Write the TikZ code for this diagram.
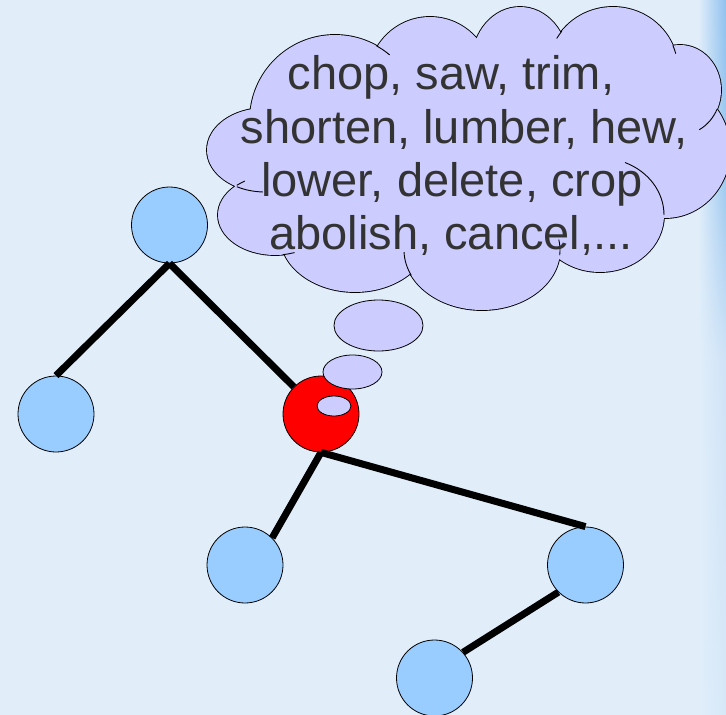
\documentclass[tikz,border=0pt]{standalone}
\usepackage{fontspec}
\setmainfont{Liberation Sans}
\usetikzlibrary{shadings}
\definecolor{bgc}{HTML}{E1EEFA}
\definecolor{nodeblue}{HTML}{99CCFF}
\definecolor{cloudc}{HTML}{CCCCFF}
\definecolor{txt}{HTML}{333333}
\definecolor{glowa}{RGB}{143,193,238}
\definecolor{glowb}{RGB}{160,202,240}
\definecolor{glowc}{RGB}{207,227,247}
\definecolor{glowd}{RGB}{214,232,248}
\tikzset{
 treenode/.style={circle, draw=black, line width=0.8pt, fill=nodeblue, minimum size=76pt, inner sep=0pt},
 hotnode/.style={treenode, fill=red},
 branch/.style={line width=7pt, draw=black},
 bubble/.style={draw=black, line width=0.8pt, fill=cloudc},
 words/.style={font=\fontsize{47}{53}\selectfont, text=txt, inner sep=0pt, anchor=base},
 innerarc/.style={draw=black, line width=0.9pt}
}
\begin{document}
\begin{tikzpicture}[x=1pt,y=-1pt]
\useasboundingbox (0,0) rectangle (726,715);
\fill[bgc] (0,0) rectangle (726,715);
% right edge glow
\shade[upper left=bgc, lower left=bgc, upper right=glowa, lower right=glowb] (698,0) rectangle (726,190);
\shade[upper left=bgc, lower left=bgc, upper right=glowb, lower right=glowc] (698,190) rectangle (726,360);
\shade[upper left=bgc, lower left=bgc, upper right=glowc, lower right=glowd] (698,360) rectangle (726,715);

% tree nodes
\node[treenode] (top) at (169.5,225) {};
\node[treenode] (left) at (56,414) {};
\node[hotnode] (red) at (321,414) {};
\node[treenode] (bl) at (245,565) {};
\node[treenode] (right) at (585.5,565) {};
\node[treenode] (bottom) at (434.5,678) {};

% branches
\draw[branch] (top.south) -- (left.north);
\draw[branch] (top.south) -- (red.135);
\draw[branch] (red.south) -- (bl.45);
\draw[branch] (red.south) -- (right.north);
\draw[branch] (right.225) -- (bottom.42);

% thought bubbles
\draw[bubble] (334,406) ellipse[x radius=17, y radius=10];
\draw[bubble] (352.5,372) ellipse[x radius=29.5, y radius=17];
\draw[bubble] (378.5,325.5) ellipse[x radius=44.5, y radius=25.5];

% cloud
\def\cloudlobes{
 (335,120) ellipse[x radius=85, y radius=85]
 (430,80) ellipse[x radius=62, y radius=63]
 (520,62) ellipse[x radius=48, y radius=55]
 (613,70) ellipse[x radius=65, y radius=63]
 (680,90) ellipse[x radius=41, y radius=45]
 (665,150) ellipse[x radius=65, y radius=68]
 (600,215) ellipse[x radius=64, y radius=57]
 (482,250) ellipse[x radius=78, y radius=60]
 (355,235) ellipse[x radius=75, y radius=57]
 (275,215) ellipse[x radius=57, y radius=40]
 (265,150) ellipse[x radius=58, y radius=42]
 (460,160) ellipse[x radius=200, y radius=95]
}
\draw[black, line width=1.8pt] \cloudlobes;
\fill[cloudc] \cloudlobes;
% short inner arcs of the cloud
\draw[innerarc] (335,120) ++(-61:85 and 85) arc[start angle=-61, end angle=-50, x radius=85, y radius=85];
\draw[innerarc] (613,70) ++(-23:65 and 63) arc[start angle=-23, end angle=-15, x radius=65, y radius=63];
\draw[innerarc] (613,70) ++(-142:65 and 63) arc[start angle=-142, end angle=-150, x radius=65, y radius=63];
\draw[innerarc] (680,90) ++(25:41 and 45) arc[start angle=25, end angle=62, x radius=41, y radius=45];
\draw[innerarc] (600,215) ++(-67:64 and 57) arc[start angle=-67, end angle=0, x radius=64, y radius=57];
\draw[innerarc] (482,250) ++(-10:78 and 60) arc[start angle=-10, end angle=5, x radius=78, y radius=60];
\draw[innerarc] (482,250) ++(155:78 and 60) arc[start angle=155, end angle=178, x radius=78, y radius=60];
\draw[innerarc] (265,150) ++(119:58 and 42) arc[start angle=119, end angle=92, x radius=58, y radius=42];
\draw[innerarc] (275,215) ++(-132:57 and 40) arc[start angle=-132, end angle=-122, x radius=57, y radius=40];
\draw[innerarc] (275,215) ++(82:57 and 40) arc[start angle=82, end angle=70, x radius=57, y radius=40];

% words
\node[words] (w1) at (451,89) {chop, saw, trim,};
\node[words] (w2) at (464,143) {shorten, lumber, hew,};
\node[words] (w3) at (452,196) {lower, delete, crop};
\node[words] (w4) at (451,249) {abolish, cancel,...};
\end{tikzpicture}
\end{document}
